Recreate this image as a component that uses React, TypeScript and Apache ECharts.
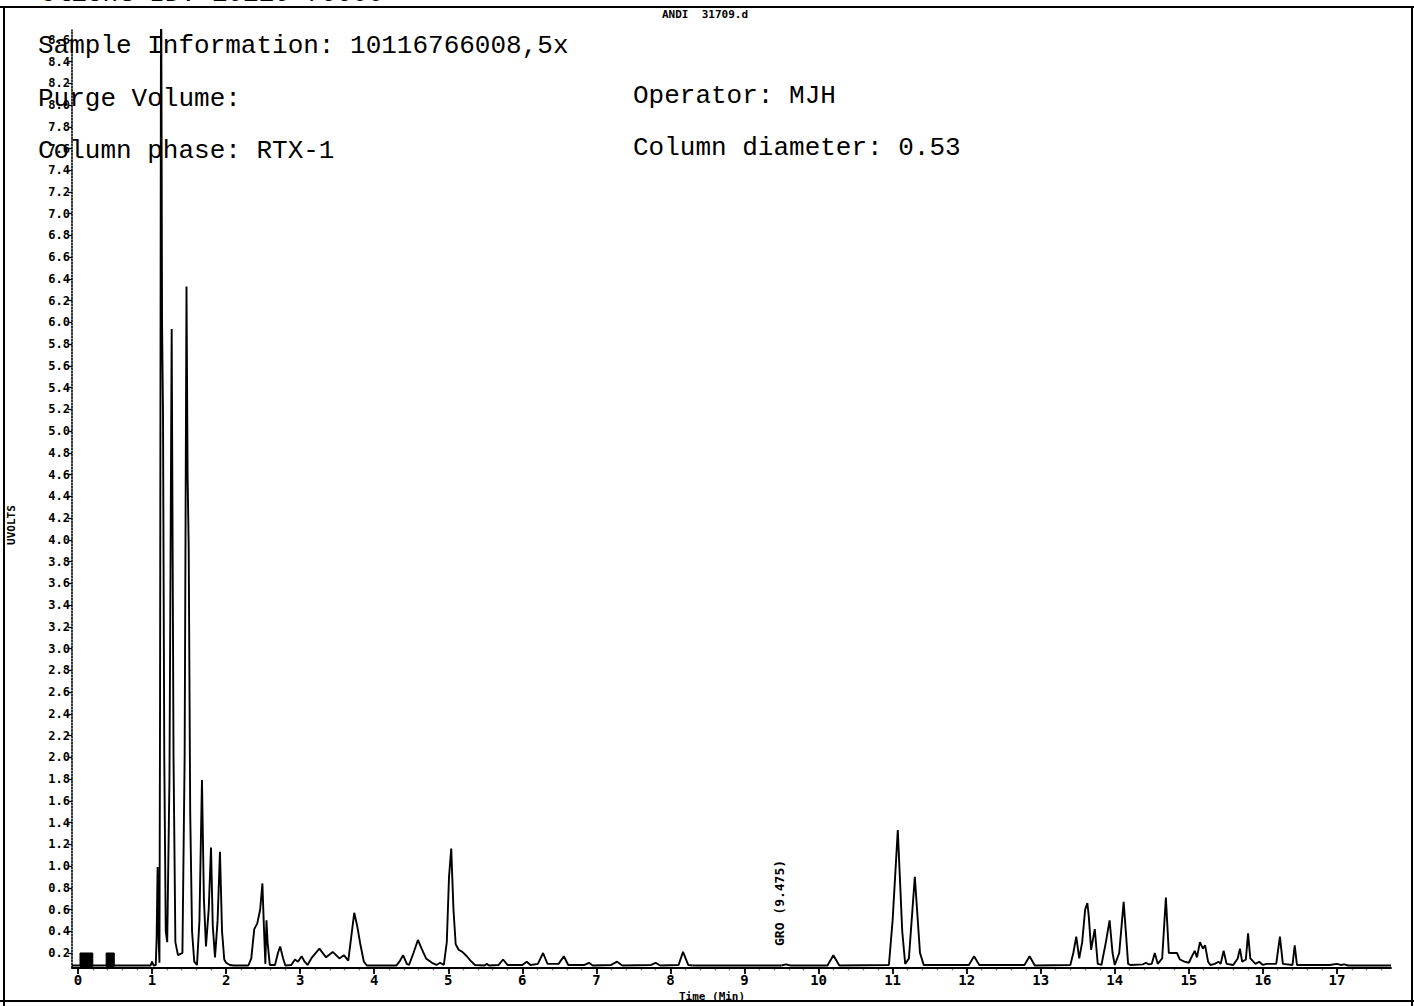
import React, { useEffect, useRef } from "react";
import * as echarts from "echarts";

// ---- axis ranges and tick labels ----
const X_MIN = -0.081;
const X_MAX = 17.73;
const Y_MIN = 0.062;
const Y_MAX = 8.69;
const X_TICKS = [0, 1, 2, 3, 4, 5, 6, 7, 8, 9, 10, 11, 12, 13, 14, 15, 16, 17];
const Y_TICKS = [
  0.2, 0.4, 0.6, 0.8, 1.0, 1.2, 1.4, 1.6, 1.8, 2.0, 2.2, 2.4, 2.6, 2.8, 3.0, 3.2, 3.4, 3.6, 3.8, 4.0,
  4.2, 4.4, 4.6, 4.8, 5.0, 5.2, 5.4, 5.6, 5.8, 6.0, 6.2, 6.4, 6.6, 6.8, 7.0, 7.2, 7.4, 7.6, 7.8, 8.0,
  8.2, 8.4, 8.6,
];

// ---- chromatogram trace: [time (min), signal (uvolts)] ----
const TRACE_EARLY: number[][] = [
  [-0.08, 0.085], [0.5, 0.085], [0.98, 0.085], [1.0, 0.12], [1.02, 0.085],
  [1.05, 0.09], [1.062, 0.34], [1.075, 0.99], [1.09, 0.3], [1.1, 0.11],
  [1.108, 2.5], [1.122, 9.6], [1.135, 6.0], [1.148, 5.17], [1.165, 2.0], [1.185, 0.4], [1.205, 0.3],
  [1.235, 1.8], [1.265, 5.94], [1.29, 2.0], [1.315, 0.3], [1.35, 0.18], [1.41, 0.2],
  [1.44, 2.0], [1.465, 6.33], [1.48, 4.6], [1.495, 3.92], [1.515, 1.5], [1.54, 0.4], [1.57, 0.12], [1.607, 0.09],
  [1.64, 0.5], [1.674, 1.79], [1.7, 0.7], [1.728, 0.26], [1.765, 0.6], [1.796, 1.17], [1.82, 0.45],
  [1.85, 0.16], [1.885, 0.5], [1.917, 1.13], [1.945, 0.4], [1.975, 0.14], [2.0, 0.11], [2.05, 0.09],
  [2.1, 0.085], [2.3, 0.085], [2.34, 0.15], [2.38, 0.42], [2.42, 0.47], [2.46, 0.6], [2.49, 0.84],
  [2.51, 0.45], [2.53, 0.1], [2.545, 0.5], [2.56, 0.3], [2.59, 0.09], [2.66, 0.09], [2.7, 0.2],
  [2.73, 0.26], [2.77, 0.15], [2.8, 0.085], [2.88, 0.09], [2.93, 0.14], [2.97, 0.12], [3.02, 0.17],
  [3.06, 0.12], [3.1, 0.09], [3.16, 0.16], [3.26, 0.24], [3.35, 0.16], [3.44, 0.21], [3.53, 0.15],
  [3.59, 0.18], [3.65, 0.13], [3.69, 0.35], [3.73, 0.57], [3.77, 0.45], [3.81, 0.29], [3.86, 0.12],
  [3.9, 0.085], [4.3, 0.085], [4.34, 0.12], [4.39, 0.18], [4.44, 0.1], [4.47, 0.09], [4.53, 0.2],
  [4.59, 0.32], [4.64, 0.24], [4.7, 0.15], [4.78, 0.11], [4.84, 0.09], [4.89, 0.11], [4.94, 0.09],
  [4.98, 0.3], [5.01, 0.9], [5.04, 1.16], [5.07, 0.6], [5.1, 0.28], [5.14, 0.23], [5.19, 0.21],
  [5.25, 0.17], [5.3, 0.13], [5.36, 0.09], [5.49, 0.085], [5.52, 0.1], [5.55, 0.085], [5.68, 0.09],
  [5.74, 0.14], [5.8, 0.09], [6.0, 0.09], [6.06, 0.12], [6.11, 0.09], [6.21, 0.1], [6.28, 0.2],
  [6.34, 0.1], [6.49, 0.1], [6.56, 0.17], [6.62, 0.09], [6.84, 0.09], [6.9, 0.11], [6.95, 0.085],
  [7.2, 0.09], [7.28, 0.12], [7.35, 0.085], [7.74, 0.09], [7.8, 0.11], [7.86, 0.085], [8.11, 0.09],
  [8.17, 0.21], [8.24, 0.09], [8.3, 0.085],
];
const TRACE_LATE: number[][] = [
  [9.5, 0.085], [9.56, 0.095], [9.62, 0.085], [10.12, 0.085], [10.2, 0.18], [10.28, 0.085],
  [10.95, 0.09], [11.0, 0.5], [11.07, 1.33], [11.13, 0.4], [11.17, 0.1], [11.22, 0.15], [11.3, 0.9],
  [11.37, 0.2], [11.42, 0.09], [12.03, 0.09], [12.1, 0.17], [12.17, 0.09], [12.78, 0.09],
  [12.85, 0.17], [12.92, 0.085], [13.4, 0.09], [13.44, 0.2], [13.48, 0.35], [13.52, 0.15],
  [13.56, 0.3], [13.6, 0.6], [13.63, 0.66], [13.65, 0.53], [13.68, 0.23], [13.73, 0.42],
  [13.77, 0.1], [13.82, 0.09], [13.88, 0.3], [13.93, 0.5], [13.97, 0.2], [14.0, 0.09], [14.06, 0.2],
  [14.12, 0.67], [14.15, 0.39], [14.18, 0.1], [14.21, 0.09], [14.38, 0.095], [14.42, 0.11],
  [14.46, 0.095], [14.5, 0.1], [14.54, 0.2], [14.58, 0.1], [14.64, 0.15], [14.69, 0.71],
  [14.73, 0.2], [14.78, 0.2], [14.84, 0.2], [14.88, 0.14], [14.94, 0.12], [15.0, 0.11],
  [15.05, 0.18], [15.08, 0.22], [15.11, 0.16], [15.15, 0.3], [15.19, 0.24], [15.22, 0.27],
  [15.26, 0.12], [15.29, 0.09], [15.35, 0.1], [15.4, 0.12], [15.43, 0.1], [15.47, 0.22],
  [15.51, 0.1], [15.6, 0.09], [15.66, 0.15], [15.69, 0.24], [15.72, 0.12], [15.77, 0.14],
  [15.8, 0.38], [15.83, 0.15], [15.9, 0.1], [15.95, 0.12], [16.0, 0.09], [16.05, 0.1],
  [16.18, 0.1], [16.23, 0.35], [16.27, 0.1], [16.4, 0.09], [16.43, 0.27], [16.46, 0.09],
  [16.9, 0.09], [17.0, 0.1], [17.05, 0.09], [17.1, 0.095], [17.15, 0.085], [17.73, 0.085],
];
const TRACE_MID: number[][] = [[8.3, 0.085], [9.5, 0.085]];

// event blocks near the injection
const BLOCK_A: number[][] = [[0.027, 0.085], [0.027, 0.2], [0.2, 0.2], [0.2, 0.085]];
const BLOCK_B: number[][] = [[0.38, 0.085], [0.38, 0.2], [0.49, 0.2], [0.49, 0.085]];

const GRO_TIME = 9.475;

const HEADER_LEFT = [
  "Sample Information: 10116766008,5x",
  "Purge Volume:",
  "Column phase: RTX-1",
];
const HEADER_RIGHT = ["Operator: MJH", "Column diameter: 0.53"];

const MONO = "'Liberation Mono', 'DejaVu Sans Mono', monospace";
const SMALL = "'DejaVu Sans Mono', monospace";

export default function App() {
  const ref = useRef<HTMLDivElement>(null);

  useEffect(() => {
    if (!ref.current) return;
    const chart = echarts.init(ref.current, undefined, { renderer: "svg" });

    const minorTicks: number[] = [];
    for (let i = 0; i <= 88; i++) minorTicks.push(Math.round(i * 0.2 * 10) / 10);

    const gridLeft = 72;
    const gridRight = 23;
    const gridTop = 30;
    const gridBottom = 38;
    const W = 1414;
    const H = 1006;
    const groX = gridLeft + ((GRO_TIME - X_MIN) / (X_MAX - X_MIN)) * (W - gridLeft - gridRight);

    const lineStyle = { color: "#000", width: 1.9 };

    const option: any = {
      animation: false,
      backgroundColor: "#fff",
      grid: { left: gridLeft, right: gridRight, top: gridTop, bottom: gridBottom },
      xAxis: [
        {
          type: "value",
          min: X_MIN,
          max: X_MAX,
          axisLine: { show: true, onZero: false, lineStyle: { color: "#000", width: 1.8 } },
          axisTick: { show: true, customValues: X_TICKS, length: 6, lineStyle: { color: "#000", width: 1.8 } },
          axisLabel: {
            customValues: X_TICKS,
            fontSize: 14,
            fontWeight: "bold",
            fontFamily: SMALL,
            color: "#000",
            margin: 5,
          },
          splitLine: { show: false },
        },
        {
          type: "value",
          min: X_MIN,
          max: X_MAX,
          position: "bottom",
          axisLine: { show: false, onZero: false },
          axisTick: { show: true, customValues: minorTicks, length: 3, lineStyle: { color: "#000", width: 1.4, type: "dotted" } },
          axisLabel: { show: false },
          splitLine: { show: false },
        },
      ],
      yAxis: {
        type: "value",
        min: Y_MIN,
        max: Y_MAX,
        axisLine: { show: true, onZero: false, lineStyle: { color: "#000", width: 1.6, type: "dotted" } },
        axisTick: { show: true, customValues: Y_TICKS, length: 4, lineStyle: { color: "#000", width: 1.3 } },
        axisLabel: {
          customValues: Y_TICKS,
          formatter: (v: number) => v.toFixed(1),
          fontSize: 12,
          fontWeight: "bold",
          fontFamily: SMALL,
          color: "#000",
          margin: 2,
        },
        splitLine: { show: false },
      },
      series: [
        { type: "line", data: TRACE_EARLY, symbol: "none", lineStyle, clip: true },
        { type: "line", data: TRACE_MID, symbol: "none", lineStyle, clip: true },
        { type: "line", data: TRACE_LATE, symbol: "none", lineStyle, clip: true },
        { type: "line", data: BLOCK_A, symbol: "none", lineStyle: { color: "#000", width: 1 }, areaStyle: { color: "#000", opacity: 1 } },
        { type: "line", data: BLOCK_B, symbol: "none", lineStyle: { color: "#000", width: 1 }, areaStyle: { color: "#000", opacity: 1 } },
      ],
      graphic: [
        // page frame
        { type: "line", shape: { x1: 0, y1: 7, x2: W, y2: 7 }, style: { stroke: "#000", lineWidth: 2 } },
        { type: "line", shape: { x1: 4, y1: 7, x2: 4, y2: H }, style: { stroke: "#000", lineWidth: 2 } },
        { type: "line", shape: { x1: W - 2, y1: 7, x2: W - 2, y2: H }, style: { stroke: "#000", lineWidth: 2 } },
        { type: "line", shape: { x1: 0, y1: H - 5, x2: W, y2: H - 5 }, style: { stroke: "#000", lineWidth: 2 } },
        // clipped line of header above the frame
        {
          type: "text",
          x: 40,
          y: 7,
          style: { text: "Client ID: 10116-76600", font: `26px ${MONO}`, fill: "#000", textAlign: "left", textVerticalAlign: "bottom" },
        },
        {
          type: "text",
          x: 705,
          y: 14,
          style: { text: "ANDI  31709.d", font: `bold 11px ${SMALL}`, fill: "#000", textAlign: "center", textVerticalAlign: "middle" },
        },
        ...HEADER_LEFT.map((t, i) => ({
          type: "text",
          x: 38,
          y: [46, 99, 151][i],
          z: 10,
          style: { text: t, font: `26px ${MONO}`, fill: "#000", textAlign: "left", textVerticalAlign: "middle" },
        })),
        ...HEADER_RIGHT.map((t, i) => ({
          type: "text",
          x: 633,
          y: [96, 148][i],
          z: 10,
          style: { text: t, font: `26px ${MONO}`, fill: "#000", textAlign: "left", textVerticalAlign: "middle" },
        })),
        {
          type: "text",
          x: 11,
          y: 525,
          rotation: Math.PI / 2,
          style: { text: "UVOLTS", font: `bold 11px ${SMALL}`, fill: "#000", textAlign: "center", textVerticalAlign: "middle" },
        },
        {
          type: "text",
          x: groX,
          y: 946,
          rotation: Math.PI / 2,
          style: { text: "GRO (9.475)", font: `bold 13px ${SMALL}`, fill: "#000", textAlign: "left", textVerticalAlign: "middle" },
        },
        {
          type: "text",
          x: 712,
          y: 996,
          style: { text: "Time (Min)", font: `bold 11px ${SMALL}`, fill: "#000", textAlign: "center", textVerticalAlign: "middle" },
        },
      ],
    };

    chart.setOption(option);
    return () => chart.dispose();
  }, []);

  return (
    <div
      ref={ref}
      style={{ position: "fixed", left: 0, top: 0, width: 1414, height: 1006, background: "#fff" }}
    />
  );
}
